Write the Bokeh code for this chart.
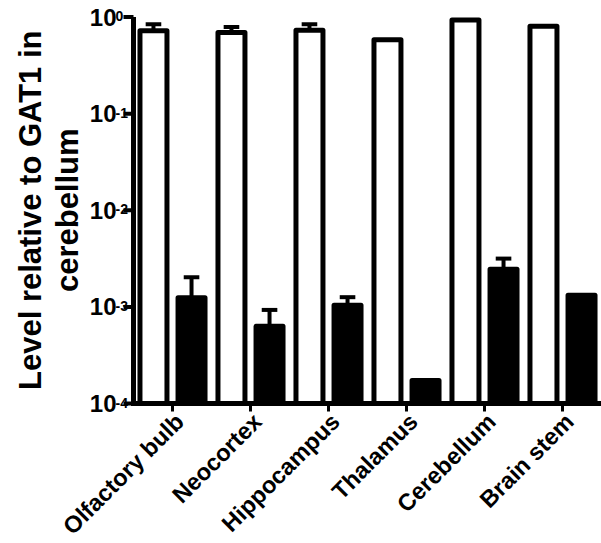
import math
import numpy as np
from bokeh.plotting import figure
from bokeh.models import Range1d
from bokeh.core.properties import value
from bokeh.embed import file_html
from bokeh.resources import INLINE

categories = ["Olfactory bulb", "Neocortex", "Hippocampus", "Thalamus", "Cerebellum", "Brain stem"]
white_vals = [0.72, 0.69, 0.73, 0.58, 0.93, 0.80]
white_err_upper = [0.84, 0.79, 0.84, None, None, None]
black_vals = [1.24e-3, 6.3e-4, 1.04e-3, 1.73e-4, 2.45e-3, 1.32e-3]
black_err_upper = [2.02e-3, 9.3e-4, 1.26e-3, None, 3.16e-3, None]
y_exponents = [-4, -3, -2, -1, 0]
y_ticks = [10.0 ** e for e in y_exponents]
y_label_lines = ["Level relative to GAT1 in", "cerebellum"]

# ---- layout constants (pixels) ----
W, H = 601, 543
AXIS_X = 133          # pixel x of the y axis
TOP_Y = 16.5          # pixel y of the highest tick
BOT_Y = 403           # pixel y of the x axis
FONT = "Liberation Sans"

n = len(categories)
PX_X = (W - AXIS_X) / n                       # pixels per category
dec_lo, dec_hi = y_exponents[0], y_exponents[-1]
PX_DEC = (BOT_Y - TOP_Y) / (dec_hi - dec_lo)  # pixels per decade

x_start = -AXIS_X / PX_X
y_start = 10.0 ** (dec_lo - (H - BOT_Y) / PX_DEC)
y_end = 10.0 ** (dec_hi + TOP_Y / PX_DEC)


def xpx(x, dx):
    """shift data x by dx pixels (right positive)"""
    return np.asarray(x, dtype=float) + dx / PX_X


def ypx(y, dy):
    """shift log data y by dy pixels (down positive)"""
    return np.asarray(y, dtype=float) * 10.0 ** (-dy / PX_DEC)


xc = np.arange(n) + 0.5
off = 0.244
bw = 0.346

p = figure(width=W, height=H, output_backend="svg", toolbar_location=None,
           y_axis_type="log", x_range=Range1d(x_start, n), y_range=Range1d(y_start, y_end),
           min_border=0)
p.outline_line_color = None
p.xgrid.visible = False
p.ygrid.visible = False
p.xaxis.visible = False
p.yaxis.visible = False

bottom = y_ticks[0]
p.vbar(x=xc - off, width=bw, top=white_vals, bottom=bottom, fill_color="white",
       line_color="black", line_width=5, line_join="round")
p.vbar(x=xc + off, width=bw, top=black_vals, bottom=bottom, fill_color="black",
       line_color="black", line_width=5, line_join="round")


def err(xs, vals, ups, cap, lw):
    ix = [i for i, u in enumerate(ups) if u is not None]
    x = [xs[i] for i in ix]
    v = [vals[i] for i in ix]
    u = [ups[i] for i in ix]
    p.segment(x0=x, x1=x, y0=v, y1=u, line_color="black", line_width=lw)
    p.segment(x0=[a - cap for a in x], x1=[a + cap for a in x], y0=u, y1=u,
              line_color="black", line_width=lw)


err(list(xc - off), white_vals, white_err_upper, 0.1, 4)
err(list(xc + off), black_vals, black_err_upper, 0.1, 4)

# ---- axes drawn as lines ----
p.line(x=[0, 0, n], y=[y_ticks[-1], y_ticks[0], y_ticks[0]], line_color="black",
       line_width=5, line_join="miter")
ny = len(y_ticks)
# y ticks
p.segment(x0=xpx(np.zeros(ny), -10), x1=np.zeros(ny),
          y0=y_ticks, y1=y_ticks, line_color="black", line_width=4)
# x ticks
p.segment(x0=xc, x1=xc, y0=[y_ticks[0]] * n, y1=ypx([y_ticks[0]] * n, 8),
          line_color="black", line_width=3)

# ---- y tick labels: "10" with superscript exponent ----
p.text(x=xpx(np.zeros(ny), -17), y=y_ticks, text=["10"] * ny,
       text_align="right", text_baseline="middle", text_font=value(FONT),
       text_font_style="bold", text_font_size="24px", text_color="black")
p.text(x=xpx(np.zeros(ny), -18), y=ypx(y_ticks, -1), text=[str(e) for e in y_exponents],
       text_align="left", text_baseline="alphabetic", text_font=value(FONT),
       text_font_style="bold", text_font_size="14px", text_color="black")

# ---- category labels ----
p.text(x=xpx(xc, -2), y=ypx([y_ticks[0]] * n, 5), text=categories, angle=math.pi / 4,
       text_align="right", text_baseline="top", text_font=value(FONT),
       text_font_style="bold", text_font_size="23.5px", text_color="black")

# ---- y axis title ----
mid = 10.0 ** ((dec_lo + dec_hi) / 2)
p.text(x=[xpx(0, -103), xpx(0, -66)], y=[mid, mid], text=y_label_lines, angle=math.pi / 2,
       text_align="center", text_baseline="alphabetic", text_font=value(FONT),
       text_font_style="bold", text_font_size="31px", text_color="black")

open("out.html", "w").write(file_html(p, INLINE))
